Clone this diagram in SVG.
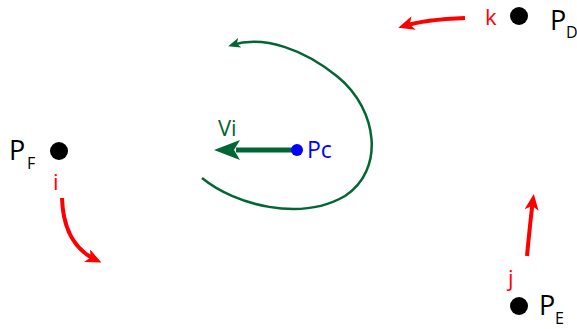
<svg xmlns="http://www.w3.org/2000/svg" width="577" height="329" viewBox="0 0 577 329">
<style>
.lbl{font-family:"Open Sans","DejaVu Sans",sans-serif;}
.red{fill:#ff0000;}
.sub{font-size:16px;}
.big{font-size:27px;fill:#000;}
.ra{fill:none;stroke:#ff0000;stroke-width:4;}
</style>
<defs>
<marker id="rhb" markerWidth="16" markerHeight="14" refX="10" refY="7" orient="auto" markerUnits="userSpaceOnUse" viewBox="0 0 16 14">
<path d="M0,0 L16,7 L0,14 L4,7 Z" fill="#ff0000"/>
</marker>
<marker id="gh" markerWidth="12" markerHeight="10" refX="8" refY="5" orient="auto" markerUnits="userSpaceOnUse" viewBox="0 0 12 10">
<path d="M0,0 L12,5 L0,10 L3,5 Z" fill="#006633"/>
</marker>
<marker id="ghb" markerWidth="26" markerHeight="20" refX="4" refY="10" orient="auto" markerUnits="userSpaceOnUse" viewBox="0 0 26 20">
<path d="M0,0 L26,10 L0,20 L6,10 Z" fill="#006633"/>
</marker>
</defs>
<g id="connectors">
<path d="M465,18 C440,19 420,21 404,26" class="ra" marker-end="url(#rhb)"/>
<path d="M62,198 C63,230 75,250 96,260" class="ra" marker-end="url(#rhb)"/>
<path d="M527,256 C529,235 531,215 533,200" class="ra" marker-end="url(#rhb)"/>
<path d="M202,178 C235,205 300,222 345,196 C385,170 378,110 338,77 C305,50 265,35 232,45" fill="none" stroke="#006633" stroke-width="2.5" marker-end="url(#gh)"/>
<path d="M297,150 L236,150" fill="none" stroke="#006633" stroke-width="5" marker-end="url(#ghb)"/>
</g>
<g id="PD">
<circle cx="519" cy="16" r="9" fill="#000"/>
<text x="550" y="30" class="lbl big">P</text>
<text x="566" y="38" class="lbl sub">D</text>
<text x="485" y="25" class="lbl red" font-size="22">k</text>
</g>
<g id="PF">
<circle cx="59" cy="151" r="9" fill="#000"/>
<text x="9" y="160" class="lbl big">P</text>
<text x="27" y="169" class="lbl sub">F</text>
<text x="53" y="190" class="lbl red" font-size="22">i</text>
</g>
<g id="PE">
<circle cx="519" cy="306" r="9" fill="#000"/>
<text x="539" y="315" class="lbl big">P</text>
<text x="555" y="324" class="lbl sub">E</text>
<text x="508" y="286" class="lbl red" font-size="22">j</text>
</g>
<g id="Pc">
<circle cx="297" cy="150" r="6" fill="#0000ff"/>
<text x="307" y="158" class="lbl" font-size="23" fill="#0000ff">Pc</text>
</g>
<g id="Vi">
<text x="218" y="136" class="lbl" font-size="22" fill="#006633">Vi</text>
</g>
</svg>
